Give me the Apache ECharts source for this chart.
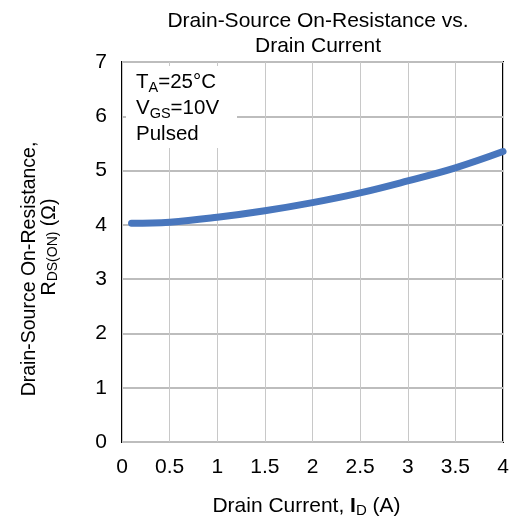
<!DOCTYPE html>
<html>
<head>
<meta charset="utf-8">
<script src="https://cdn.jsdelivr.net/npm/echarts@6/dist/echarts.min.js"></script>
<style>html,body{margin:0;padding:0;background:#fff}#c{width:516px;height:520px}</style>
</head>
<body>
<div id="c"></div>
<script>
const currentA = [0.1, 0.5, 1, 1.5, 2, 2.5, 3, 3.5, 4];
const rdsOn = [4.03, 4.05, 4.14, 4.26, 4.41, 4.59, 4.81, 5.05, 5.35];
const xTicks = ['0', '0.5', '1', '1.5', '2', '2.5', '3', '3.5', '4'];
const yTicks = ['0', '1', '2', '3', '4', '5', '6', '7'];

const FONT = '"Liberation Sans", Arial, sans-serif';
const chart = echarts.init(document.getElementById('c'));
chart.setOption({
  animation: false,
  backgroundColor: '#fff',
  title: {
    text: 'Drain-Source On-Resistance vs.\nDrain Current',
    left: 313, top: 4, textAlign: 'center',
    textStyle: { fontFamily: FONT, fontSize: 21, fontWeight: 'normal', color: '#000', lineHeight: 25 }
  },
  grid: { left: 122, right: 13, top: 62, bottom: 78, outerBoundsMode: 'none', containLabel: false,
    show: true, borderColor: '#000', borderWidth: 2, backgroundColor: 'transparent' },
  xAxis: {
    type: 'value', min: 0, max: 4, interval: 0.5,
    axisLine: { show: false }, axisTick: { show: false },
    splitLine: { show: true, lineStyle: { color: '#c8c8c8', width: 1 } },
    axisLabel: { fontFamily: FONT, fontSize: 21, color: '#000', margin: 15,
      formatter: (v) => { const i = Math.round(v / 0.5); return xTicks[i] !== undefined ? xTicks[i] : ''; } },
    name: '{n|Drain Current, }{b|I}{s|D}{e| (A)}',
    nameLocation: 'middle', nameGap: 52,
    nameTextStyle: { fontFamily: FONT, fontSize: 21, color: '#000',
      rich: {
        n: { fontFamily: FONT, fontSize: 21, color: '#000', lineHeight: 24 },
        e: { fontFamily: FONT, fontSize: 21, color: '#000', lineHeight: 24, padding: [0, 12, 0, 0] },
        b: { fontFamily: FONT, fontSize: 21, color: '#000', fontWeight: 'bold', lineHeight: 24 },
        s: { fontFamily: FONT, fontSize: 15, color: '#000', lineHeight: 16, verticalAlign: 'bottom' }
      } }
  },
  yAxis: {
    type: 'value', min: 0, max: 7, interval: 1,
    axisLine: { show: false }, axisTick: { show: false },
    splitLine: { show: true, lineStyle: { color: '#bdbdbd', width: 2 } },
    axisLabel: { fontFamily: FONT, fontSize: 21, color: '#000', margin: 15,
      formatter: (v) => { const i = Math.round(v); return yTicks[i] !== undefined ? yTicks[i] : ''; } },
    name: '{a|Drain-Source On-Resistance,}\n{c|R}{s|DS(ON)}{n| (Ω)}',
    nameLocation: 'middle', nameRotate: 90, nameGap: 62,
    nameTextStyle: { fontFamily: FONT, fontSize: 19.5, color: '#000', align: 'center',
      rich: {
        a: { fontFamily: FONT, fontSize: 19.5, color: '#000', lineHeight: 20, padding: [0, 34, 0, 0] },
        c: { fontFamily: FONT, fontSize: 19.5, color: '#000', lineHeight: 20, padding: [0, 0, 0, 10] },
        n: { fontFamily: FONT, fontSize: 19.5, color: '#000', lineHeight: 20 },
        s: { fontFamily: FONT, fontSize: 14, color: '#000', lineHeight: 14, verticalAlign: 'bottom' }
      } }
  },
  series: [{
    type: 'line',
    data: currentA.map((x, i) => [x, rdsOn[i]]),
    smooth: 0.4, showSymbol: false, symbol: 'none',
    lineStyle: { color: '#4876bd', width: 7, cap: 'round' },
    z: 3
  }],
  graphic: [{
    type: 'rect', left: 126, top: 66, z: 10,
    shape: { width: 111, height: 82 },
    style: { fill: '#fff' }
  }, {
    type: 'text', left: 136, top: 72, z: 11,
    style: {
      text: '{n|T}{s|A}{n|=25°C}\n{n|V}{s|GS}{n|=10V}\n{n|Pulsed}',
      font: '20px ' + FONT, fill: '#000',
      rich: {
        n: { fontFamily: FONT, fontSize: 20.5, fill: '#000', lineHeight: 26 },
        s: { fontFamily: FONT, fontSize: 14.5, fill: '#000', lineHeight: 16, verticalAlign: 'bottom' }
      }
    }
  }]
});
</script>
</body>
</html>
